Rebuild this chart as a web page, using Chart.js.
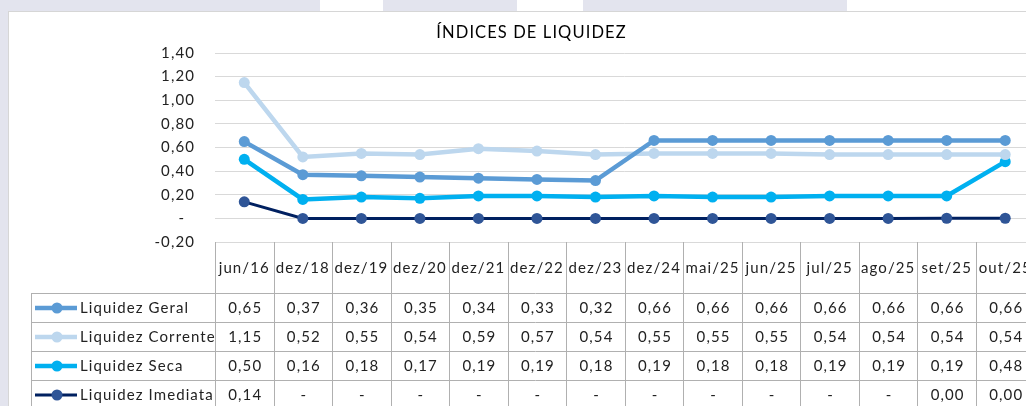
<!DOCTYPE html>
<html lang="pt">
<head>
    <meta charset="UTF-8">
    <title>Índices de Liquidez</title>
    <script src="https://cdn.jsdelivr.net/npm/chart.js"></script>
    <style>
        body { margin: 0; background-color: #e3e4ee; overflow: hidden; width: 1026px; height: 406px; position: relative; }
        .patch { position: absolute; top: 0; height: 11px; background: #fff; }
        #sheet {
            position: absolute; left: 8px; top: 11px; width: 1100px; height: 500px;
            background: #fff; border-top: 1px solid #d6d6d6; border-left: 1px solid #d6d6d6;
        }
        #chart-wrap { position: absolute; left: 0; top: 0; }
    </style>
</head>
<body>
    <div class="patch" style="left:320px;width:63px"></div>
    <div class="patch" style="left:517px;width:66px"></div>
    <div class="patch" style="left:847px;width:179px"></div>
    <div id="sheet"></div>
    <div id="chart-wrap">
        <canvas id="liq-chart" width="1040" height="420"></canvas>
    </div>

    <script>
        const labels = ['jun/16', 'dez/18', 'dez/19', 'dez/20', 'dez/21', 'dez/22', 'dez/23',
                        'dez/24', 'mai/25', 'jun/25', 'jul/25', 'ago/25', 'set/25', 'out/25'];
        const liqGeral     = [0.65, 0.37, 0.36, 0.35, 0.34, 0.33, 0.32, 0.66, 0.66, 0.66, 0.66, 0.66, 0.66, 0.66];
        const liqCorrente  = [1.15, 0.52, 0.55, 0.54, 0.59, 0.57, 0.54, 0.55, 0.55, 0.55, 0.54, 0.54, 0.54, 0.54];
        const liqSeca      = [0.50, 0.16, 0.18, 0.17, 0.19, 0.19, 0.18, 0.19, 0.18, 0.18, 0.19, 0.19, 0.19, 0.48];
        const liqImediata  = [0.14, 0, 0, 0, 0, 0, 0, 0, 0, 0, 0, 0, 0.001, 0.001];

        const FONT = 'Lato, "Open Sans", sans-serif';
        const TEXT = '#222';

        // Excel-style number: zero shows as a dash
        function fmt(v) {
            if (Math.abs(v) < 1e-9) return '-';
            return v.toFixed(2).replace('.', ',');
        }

        // letter spacing for every piece of text on the canvas
        const spacingPlugin = {
            id: 'spacing',
            beforeDraw(chart) { chart.ctx.letterSpacing = '1.1px'; }
        };

        // data table under the axis (legend keys + values)
        const tablePlugin = {
            id: 'dataTable',
            afterDraw(chart) {
                const ctx = chart.ctx;
                const xs = chart.scales.x;
                const rowTop = xs.bottom;
                const rowH = 29;
                const legendLeft = 31;
                const colW = xs.width / labels.length;
                const bottom = chart.height;
                const sets = chart.data.datasets;

                ctx.save();
                ctx.strokeStyle = '#b0b0b0';
                ctx.lineWidth = 1;
                ctx.beginPath();
                for (let k = 0; k <= labels.length; k++) {
                    const x = Math.round(xs.left + k * colW) + 0.5;
                    ctx.moveTo(x, xs.top);
                    ctx.lineTo(x, bottom);
                }
                ctx.moveTo(legendLeft + 0.5, rowTop);
                ctx.lineTo(legendLeft + 0.5, bottom);
                for (let r = 0; r <= sets.length; r++) {
                    const y = Math.round(rowTop + r * rowH) + 0.5;
                    ctx.moveTo(legendLeft, y);
                    ctx.lineTo(chart.width, y);
                }
                ctx.stroke();

                ctx.font = '15px ' + FONT;
                ctx.textBaseline = 'middle';
                sets.forEach((ds, r) => {
                    const cy = rowTop + r * rowH + rowH / 2 + 0.5;
                    // legend key
                    ctx.strokeStyle = ds.borderColor;
                    ctx.lineWidth = ds.borderWidth;
                    ctx.beginPath();
                    ctx.moveTo(legendLeft + 4, cy);
                    ctx.lineTo(legendLeft + 46, cy);
                    ctx.stroke();
                    ctx.fillStyle = ds.pointBackgroundColor;
                    ctx.beginPath();
                    ctx.arc(legendLeft + 26, cy, ds.pointRadius, 0, Math.PI * 2);
                    ctx.fill();
                    ctx.fillStyle = TEXT;
                    ctx.textAlign = 'left';
                    ctx.fillText(ds.label, legendLeft + 49, cy);
                    // values
                    ctx.textAlign = 'center';
                    ds.data.forEach((v, i) => {
                        ctx.fillText(fmt(v), xs.getPixelForValue(i) + 1, cy);
                    });
                });
                ctx.restore();
            }
        };

        function lineSet(label, data, line, point, width) {
            return {
                label, data,
                borderColor: line,
                borderWidth: width,
                pointBackgroundColor: point,
                pointBorderColor: point,
                pointRadius: 5.5,
                pointBorderWidth: 0,
                tension: 0
            };
        }

        new Chart(document.getElementById('liq-chart'), {
            type: 'line',
            data: {
                labels,
                datasets: [
                    lineSet('Liquidez Geral', liqGeral, '#5b9bd5', '#5b9bd5', 4.5),
                    lineSet('Liquidez Corrente', liqCorrente, '#bdd7ee', '#bdd7ee', 4.5),
                    lineSet('Liquidez Seca', liqSeca, '#00b0f0', '#00b0f0', 4.5),
                    lineSet('Liquidez Imediata', liqImediata, '#002060', '#2f5597', 3)
                ]
            },
            options: {
                responsive: false,
                animation: false,
                devicePixelRatio: 1,
                layout: { padding: { left: 25, right: 2, top: 0, bottom: 127 } },
                plugins: {
                    legend: { display: false },
                    tooltip: { enabled: false },
                    title: {
                        display: true,
                        text: 'ÍNDICES DE LIQUIDEZ',
                        color: '#000',
                        font: { family: FONT, size: 16.5, weight: 'normal', lineHeight: 1.2 },
                        padding: { top: 23, bottom: 10.2 }
                    }
                },
                scales: {
                    x: {
                        offset: true,
                        grid: { display: false },
                        border: { display: false },
                        ticks: {
                            color: TEXT, font: { family: FONT, size: 15 },
                            padding: 9.5, maxRotation: 0, autoSkip: false
                        },
                        afterFit(scale) { scale.height = 51; }
                    },
                    y: {
                        min: -0.2, max: 1.4,
                        border: { display: false },
                        grid: { color: '#d9d9d9', drawTicks: false },
                        ticks: {
                            stepSize: 0.2, padding: 20, color: TEXT,
                            font: { family: FONT, size: 15 },
                            callback: v => Math.abs(v) < 1e-9 ? '-  ' : fmt(v)
                        },
                        afterFit(scale) { scale.width = 190; }
                    }
                }
            },
            plugins: [spacingPlugin, tablePlugin]
        });
    </script>
</body>
</html>
